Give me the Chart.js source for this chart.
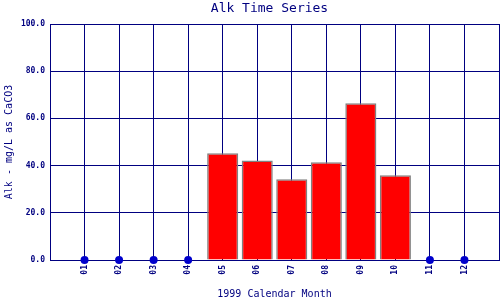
<!DOCTYPE html>
<html>
<head>
<meta charset="utf-8">
<script src="https://cdn.jsdelivr.net/npm/chart.js@4/dist/chart.umd.min.js"></script>
<style>
  html, body { margin: 0; padding: 0; background: #fff; overflow: hidden; }
  canvas { display: block; }
</style>
</head>
<body>
<!-- a few px wider than the window: chart.js keeps a small right gap we want off-screen -->
<canvas id="alkChart" width="503" height="300"></canvas>
<script>
const months = ['01', '02', '03', '04', '05', '06', '07', '08', '09', '10', '11', '12'];
// measured alkalinity, null where there is no sample
const alkValues = [null, null, null, null, 45.2, 42.2, 34.2, 41.4, 66.4, 35.9, null, null];
// months without a sample are marked with a dot on the zero line
const noSample = [0, 0, 0, 0, null, null, null, null, null, null, 0, 0];
const yTicks = [0, 20, 40, 60, 80, 100];

const navy = '#000080';
const mono = 'DejaVu Sans Mono';

// blank slot on each side so the month grid lines fall between the edges
const labels = [''].concat(months, ['']);
const barData = [null].concat(alkValues, [null]);
const dotData = [null].concat(noSample, [null]);

const titlePlugin = {
    id: 'chartTitle',
    afterDraw(chart) {
        const c = chart.ctx;
        const area = chart.chartArea;
        c.save();
        c.font = '13px "' + mono + '"';
        c.fillStyle = navy;
        c.textAlign = 'center';
        c.textBaseline = 'middle';
        c.fillText('Alk Time Series', (area.left + area.right) / 2 - 5, 9);
        c.restore();
    }
};

const ctx = document.getElementById('alkChart').getContext('2d');
const alkChart = new Chart(ctx, {
    data: {
        labels: labels,
        datasets: [{
            type: 'line',
            data: dotData,
            showLine: false,
            pointRadius: 4,
            pointBackgroundColor: '#0000cc',
            pointBorderColor: '#0000cc',
            pointBorderWidth: 0,
            clip: false,
        }, {
            type: 'bar',
            data: barData,
            backgroundColor: '#ff0000',
            borderColor: '#808080',
            borderWidth: 1.5,
            categoryPercentage: 0.9,
            barPercentage: 1.0,
        }],
    },
    options: {
        responsive: false,
        animation: false,
        devicePixelRatio: 1,
        layout: { padding: { top: 24, right: 0, bottom: 0, left: 0 } },
        plugins: {
            legend: { display: false },
            tooltip: { enabled: false },
        },
        scales: {
            x: {
                type: 'category',
                offset: false,
                grid: { color: navy, lineWidth: 1, drawTicks: false, offset: false },
                border: { color: navy, width: 1 },
                ticks: {
                    color: navy,
                    font: { family: mono, size: 8, weight: 'bold' },
                    minRotation: 90,
                    maxRotation: 90,
                    padding: 5,
                    autoSkip: false,
                },
                title: {
                    display: true,
                    text: '1999 Calendar Month',
                    color: navy,
                    font: { family: mono, size: 10 },
                    padding: { top: 0, bottom: 0 },
                },
                afterFit(scale) {
                    scale.height = 40;
                    scale.paddingLeft = 0;
                    scale.paddingRight = 0;
                },
            },
            y: {
                type: 'linear',
                min: 0,
                max: 100,
                afterBuildTicks(scale) {
                    scale.ticks = yTicks.map(v => ({ value: v }));
                },
                grid: { color: navy, lineWidth: 1, drawTicks: false },
                border: { color: navy, width: 1 },
                ticks: {
                    color: navy,
                    font: { family: mono, size: 8, weight: 'bold' },
                    padding: 5,
                    callback: v => v.toFixed(1),
                },
                title: {
                    display: true,
                    text: 'Alk - mg/L as CaCO3',
                    color: navy,
                    font: { family: mono, size: 10 },
                    padding: { top: 3, bottom: 0 },
                },
                afterFit(scale) { scale.width = 50; },
            },
        },
    },
    plugins: [titlePlugin],
});
</script>
</body>
</html>
